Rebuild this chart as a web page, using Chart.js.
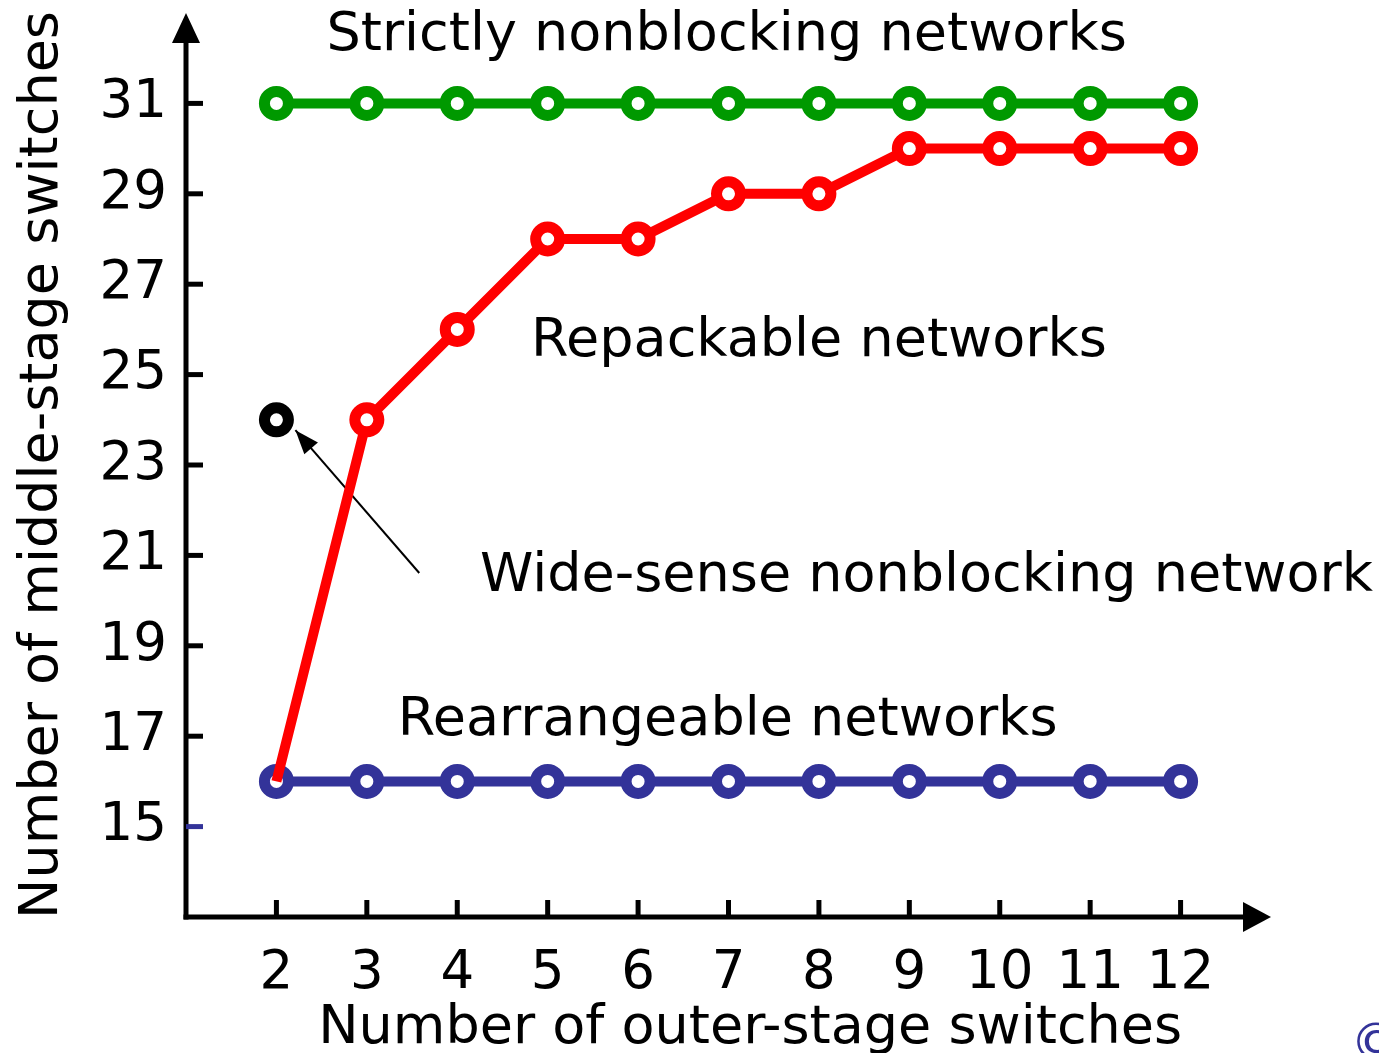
<!DOCTYPE html>
<html>
<head>
<meta charset="utf-8">
<script src="https://cdn.jsdelivr.net/npm/chart.js@4.4.1/dist/chart.umd.min.js"></script>
<style>
  html, body { margin: 0; padding: 0; background: #fff; }
  #wrap { width: 1379px; height: 1053px; position: relative; }
</style>
</head>
<body>
<div id="wrap"><canvas id="chart"></canvas></div>
<script>
// data
const outerSwitches = [2, 3, 4, 5, 6, 7, 8, 9, 10, 11, 12];
const strictlyNonblocking = [31, 31, 31, 31, 31, 31, 31, 31, 31, 31, 31];
const repackable = [16, 24, 26, 28, 28, 29, 29, 30, 30, 30, 30];
const rearrangeable = [16, 16, 16, 16, 16, 16, 16, 16, 16, 16, 16];
const wideSenseX = [2];
const wideSense = [24];
const yTicks = [15, 17, 19, 21, 23, 25, 27, 29, 31];

// text on the plot, placed in data units
const noteTexts = ['Strictly nonblocking networks', 'Repackable networks', 'Wide-sense nonblocking network', 'Rearrangeable networks'];
const noteX = [6.98, 8.0, 9.19, 6.99];
const noteY = [32.5, 25.72, 20.52, 17.34];
const arrowFrom = [3.58, 20.61];
const arrowTo = [2.21, 23.77];
const xTitle = 'Number of outer-stage switches';
const xTitleCenter = 7.24;

const FONT = '"DejaVu Sans", Verdana, sans-serif';

const toPoints = (xs, ys) => xs.map((x, i) => ({x: x, y: ys[i]}));

const drawArrowHead = (ctx, x1, y1, x2, y2, len, half) => {
    const a = Math.atan2(y2 - y1, x2 - x1);
    ctx.beginPath();
    ctx.moveTo(x2, y2);
    ctx.lineTo(x2 - len * Math.cos(a) + half * Math.sin(a), y2 - len * Math.sin(a) - half * Math.cos(a));
    ctx.lineTo(x2 - len * Math.cos(a) - half * Math.sin(a), y2 - len * Math.sin(a) + half * Math.cos(a));
    ctx.closePath();
    ctx.fill();
};

// axes with arrows, inward tick marks, notes
const decorPlugin = {
    id: 'decor',
    beforeDatasetsDraw(chart) {
        const {ctx, chartArea: ca, scales: {x, y}} = chart;
        ctx.save();
        ctx.strokeStyle = '#000';
        ctx.fillStyle = '#000';
        ctx.lineWidth = 5;
        ctx.lineCap = 'butt';
        // y axis
        ctx.beginPath();
        ctx.moveTo(ca.left, ca.bottom + 2.5);
        ctx.lineTo(ca.left, ca.top + 20);
        ctx.stroke();
        drawArrowHead(ctx, ca.left, ca.bottom, ca.left, ca.top, 30, 14);
        // x axis
        ctx.beginPath();
        ctx.moveTo(ca.left - 2.5, ca.bottom);
        ctx.lineTo(ca.right - 20, ca.bottom);
        ctx.stroke();
        drawArrowHead(ctx, ca.left, ca.bottom, ca.right, ca.bottom, 28, 15);
        // y tick marks
        yTicks.forEach(v => {
            const py = y.getPixelForValue(v);
            ctx.strokeStyle = v === 15 ? '#333399' : '#000';
            ctx.beginPath();
            ctx.moveTo(ca.left, py);
            ctx.lineTo(ca.left + 17, py);
            ctx.stroke();
        });
        ctx.strokeStyle = '#000';
        // x tick marks
        outerSwitches.forEach(v => {
            const px = x.getPixelForValue(v);
            ctx.beginPath();
            ctx.moveTo(px, ca.bottom);
            ctx.lineTo(px, ca.bottom - 17);
            ctx.stroke();
        });
        // notes
        ctx.font = '54px ' + FONT;
        ctx.textAlign = 'center';
        ctx.textBaseline = 'middle';
        noteTexts.forEach((t, i) => {
            ctx.fillText(t, x.getPixelForValue(noteX[i]), y.getPixelForValue(noteY[i]));
        });
        // x axis title (sits a little right of centre in the original)
        ctx.textBaseline = 'alphabetic';
        ctx.fillText(xTitle, x.getPixelForValue(xTitleCenter), chart.height - 10);
        // pointer arrow
        const ax1 = x.getPixelForValue(arrowFrom[0]), ay1 = y.getPixelForValue(arrowFrom[1]);
        const ax2 = x.getPixelForValue(arrowTo[0]), ay2 = y.getPixelForValue(arrowTo[1]);
        ctx.lineWidth = 2;
        ctx.beginPath();
        ctx.moveTo(ax1, ay1);
        ctx.lineTo(ax2, ay2);
        ctx.stroke();
        drawArrowHead(ctx, ax1, ay1, ax2, ay2, 24, 9);
        // copyright mark
        ctx.fillStyle = '#333399';
        ctx.font = '52px ' + FONT;
        ctx.textAlign = 'left';
        ctx.fillText('\u00A9', 1350, 1060);
        ctx.restore();
    }
};

const lineSet = (label, data, color, order, radii) => ({
    label: label,
    data: data,
    borderColor: color,
    backgroundColor: '#fff',
    pointBorderColor: color,
    pointBackgroundColor: '#fff',
    borderWidth: 10,
    pointRadius: radii || 12,
    pointBorderWidth: 11,
    pointHoverRadius: 12,
    tension: 0,
    order: order,
    clip: false
});

const ctx = document.getElementById('chart').getContext('2d');
new Chart(ctx, {
    type: 'line',
    data: {
        datasets: [
            lineSet('Strictly nonblocking networks', toPoints(outerSwitches, strictlyNonblocking), '#009900', 3),
            lineSet('Repackable networks', toPoints(outerSwitches, repackable), '#ff0000', 1,
                repackable.map((v, i) => i === 0 ? 0 : 12)),
            lineSet('Rearrangeable networks', toPoints(outerSwitches, rearrangeable), '#333399', 2),
            Object.assign(lineSet('Wide-sense nonblocking network', toPoints(wideSenseX, wideSense), '#000', 0),
                {showLine: false})
        ]
    },
    options: {
        responsive: true,
        maintainAspectRatio: false,
        animation: false,
        events: [],
        layout: {autoPadding: false, padding: {top: 13, right: 108, left: 0, bottom: 0}},
        plugins: {legend: {display: false}, tooltip: {enabled: false}},
        scales: {
            x: {
                type: 'linear',
                min: 1,
                max: 13,
                afterBuildTicks: s => { s.ticks = outerSwitches.map(v => ({value: v})); },
                afterFit: s => { s.height = 136; s.paddingLeft = 0; s.paddingRight = 0; },
                grid: {display: false, drawTicks: false},
                border: {display: false},
                ticks: {color: '#000', font: {family: FONT, size: 53}, padding: 25, maxRotation: 0, autoSkip: false}
            },
            y: {
                type: 'linear',
                min: 13,
                max: 33,
                afterBuildTicks: s => { s.ticks = yTicks.map(v => ({value: v})); },
                afterFit: s => { s.width = 186; s.paddingTop = 0; s.paddingBottom = 0; },
                grid: {display: false, drawTicks: false},
                border: {display: false},
                ticks: {color: '#000', font: {family: FONT, size: 53}, padding: 19, autoSkip: false},
                title: {display: true, text: 'Number of middle-stage switches', color: '#000',
                    font: {family: FONT, size: 54}, padding: {top: 11, bottom: 0}}
            }
        }
    },
    plugins: [decorPlugin]
});
</script>
</body>
</html>
